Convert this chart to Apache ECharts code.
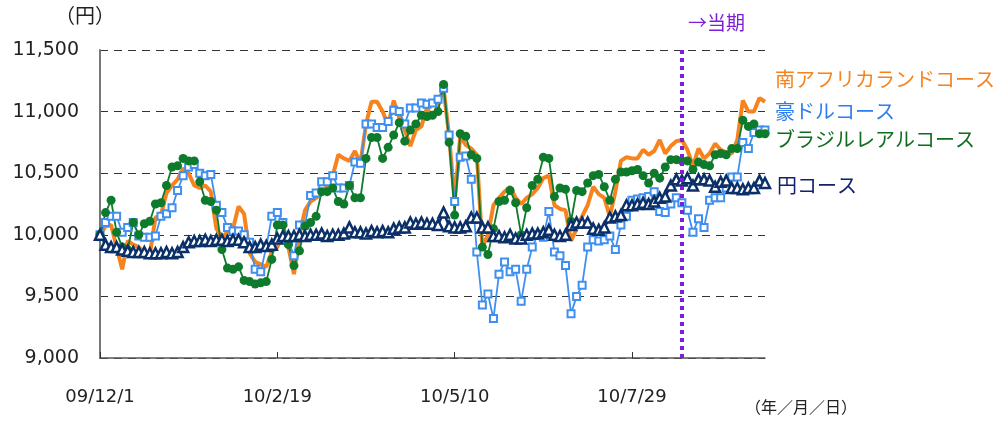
<!DOCTYPE html>
<html>
<head>
<meta charset="utf-8">
<script src="https://cdn.jsdelivr.net/npm/echarts@6/dist/echarts.min.js"></script>
<style>
  html, body { margin: 0; padding: 0; background: #fff; }
  #chart { width: 995px; height: 422px; }
</style>
</head>
<body>
<div id="chart"></div>
<script>
// x軸の目盛ラベル(32点ごと、1点=2.5日)
const tickLabels = ['09/12/1', '10/2/19', '10/5/10', '10/7/29'];
const tickStep = 32;
const currentIndex = 105; // 当期の開始位置

const seriesNames = ['南アフリカランドコース', '豪ドルコース', 'ブラジルレアルコース', '円コース'];

const zarData = [
  10000, 10070, 10080, 9900, 9720, 9950, 9920, 9900, 9850, 9840,
  10140, 10160, 10340, 10400, 10450, 10540, 10500, 10400, 10380, 10400,
  10350, 10050, 9980, 10020, 10050, 10230, 10170, 9850, 9780, 9760,
  9740, 9860, 9900, 10010, 9900, 9680, 10000, 10200, 10270, 10300,
  10330, 10400, 10480, 10650, 10620, 10600, 10680, 10580, 10900, 11080,
  11080, 11000, 10890, 11090, 10950, 10850, 10720, 10850, 10880, 11030,
  10950, 11050, 11190, 10800, 10270, 10800, 10730, 10700, 10650, 9900,
  10000, 10240, 10300, 10350, 10390, 10300, 10250, 10300, 10330, 10380,
  10460, 10480, 10240, 10210, 10200, 9950, 10050, 10150, 10240, 10390,
  10330, 10300, 10150, 10350, 10600, 10630, 10620, 10620, 10690, 10650,
  10680, 10770, 10660, 10720, 10760, 10770, 10690, 10560, 10700, 10620,
  10660, 10740, 10690, 10670, 10660, 10770, 11090, 11000, 11000, 11110,
  11080
];

const audData = [
  10000, 10100, 10150, 10150, 10020, 10060, 10100, 9990, 9980, 9980,
  9990, 10150, 10170, 10220, 10360, 10480, 10550, 10570, 10500, 10480,
  10490, 10240, 10180, 10060, 10030, 10030, 10000, 9940, 9720, 9700,
  9900, 10150, 10180, 10100, 9950, 9830, 10080, 10080, 10320, 10340,
  10430, 10430, 10480, 10380, 10380, 10400, 10590, 10580, 10900, 10900,
  10870, 10870, 10920, 11010, 11000, 10900, 11030, 11030, 11070, 11060,
  11070, 11100, 11190, 10810, 10270, 10630, 10640, 10450, 9860, 9430,
  9520, 9320, 9680, 9780, 9700, 9720, 9460, 9720, 9900, 10000,
  9980, 10190, 9860, 9830, 9750, 9360, 9500, 9590, 9900, 9960,
  9950, 9960, 9990, 9880, 10080, 10150, 10280, 10290, 10300, 10310,
  10350, 10190, 10180, 10250, 10300, 10260, 10200, 10020, 10130, 10060,
  10280, 10300, 10300, 10380, 10470, 10470, 10750, 10700, 10830, 10850,
  10850
];

const brlData = [
  10000, 10180, 10280, 10020, 9900, 9880, 10100, 10000, 10090, 10110,
  10250, 10260, 10400, 10550, 10560, 10620, 10600, 10600, 10430, 10280,
  10270, 10200, 9880, 9730, 9720, 9740, 9630, 9620, 9600, 9610,
  9620, 9800, 10080, 10080, 9920, 9750, 9870, 10070, 10100, 10150,
  10350, 10350, 10380, 10270, 10250, 10400, 10300, 10300, 10620, 10790,
  10790, 10620, 10710, 10810, 10910, 10760, 10850, 10900, 10970, 10960,
  10970, 11000, 11220, 10750, 10160, 10820, 10800, 10650, 10620, 9900,
  9840, 10050, 10270, 10280, 10360, 10260, 10000, 10220, 10400, 10450,
  10630, 10620, 10310, 10380, 10370, 10110, 10360, 10350, 10420, 10480,
  10490, 10390, 10280, 10450, 10510, 10510, 10520, 10530, 10480, 10420,
  10500, 10460, 10550, 10610, 10610, 10600, 10600, 10530, 10590, 10570,
  10560, 10650, 10660, 10650, 10700, 10700, 10930, 10880, 10900, 10820,
  10820
];

const jpyData = [
  10000, 9920, 9900, 9900, 9880, 9870, 9860, 9860, 9860, 9850,
  9850, 9850, 9860, 9850, 9860, 9900, 9940, 9950, 9950, 9960,
  9950, 9960, 9960, 9950, 9960, 9960, 9940, 9900, 9900, 9920,
  9910, 9920, 9970, 9990, 9990, 9990, 10000, 9990, 10000, 10000,
  10010, 9990, 10000, 10000, 10010, 10060, 10020, 10020, 10010, 10030,
  10020, 10030, 10020, 10050, 10060, 10060, 10100, 10090, 10100, 10090,
  10090, 10080, 10180, 10070, 10060, 10060, 10070, 10140, 10140, 10060,
  10060, 9990, 9990, 9980, 10000, 9970, 9970, 10000, 10010, 10010,
  10020, 10040, 10000, 9990, 10000, 10080, 10100, 10100, 10100, 10050,
  10040, 10060, 10140, 10150, 10160, 10240, 10240, 10250, 10260, 10250,
  10270, 10300, 10310, 10400, 10450, 10440, 10460, 10400, 10450, 10450,
  10440, 10390, 10430, 10440, 10380, 10380, 10370, 10380, 10380, 10440,
  10420
];

const categories = zarData.map((v, i) => i);

const FONT = '"Noto Sans CJK JP", "Noto Sans", sans-serif';
const NUMFONT = '"DejaVu Sans", "Noto Sans", sans-serif';
const chart = echarts.init(document.getElementById('chart'));

chart.setOption({
  animation: false,
  grid: { left: 100, right: 230, top: 50, bottom: 64 },
  xAxis: {
    type: 'category',
    data: categories,
    boundaryGap: false,
    axisLine: { lineStyle: { color: '#555', width: 1.5 } },
    axisTick: {
      inside: true, length: 6,
      interval: (idx) => idx % tickStep === 0,
      lineStyle: { color: '#333' }
    },
    axisLabel: {
      interval: (idx) => idx % tickStep === 0,
      formatter: (v, idx) => tickLabels[idx / tickStep] || '',
      margin: 30,
      color: '#222',
      fontSize: 18,
      fontFamily: NUMFONT
    },
    splitLine: { show: false }
  },
  yAxis: {
    type: 'value',
    min: 9000, max: 11500, interval: 500,
    axisLine: { show: true, lineStyle: { color: '#777', width: 2 } },
    axisTick: { show: false },
    axisLabel: {
      color: '#222', fontSize: 19, fontFamily: NUMFONT, margin: 21,
      formatter: (v) => v.toLocaleString('en-US')
    },
    splitLine: { lineStyle: { color: '#333', type: [8, 6], width: 1 } }
  },
  series: [
    {
      name: seriesNames[0], type: 'line', data: zarData,
      showSymbol: false, symbol: 'none',
      lineStyle: { color: '#f7831f', width: 4 },
      itemStyle: { color: '#f7831f' },
      markLine: {
        silent: true, symbol: 'none', label: { show: false },
        lineStyle: { color: '#7d1fd8', width: 4, type: [4, 4] },
        data: [{ xAxis: currentIndex }]
      }
    },
    {
      name: seriesNames[1], type: 'line', data: audData,
      symbol: 'rect', symbolSize: 7, showAllSymbol: true,
      lineStyle: { color: '#3f8ff0', width: 1.8 },
      itemStyle: { color: '#fff', borderColor: '#3f8ff0', borderWidth: 2 }
    },
    {
      name: seriesNames[2], type: 'line', data: brlData,
      symbol: 'circle', symbolSize: 9, showAllSymbol: true,
      lineStyle: { color: '#0e7a2c', width: 1.8 },
      itemStyle: { color: '#0e7a2c' }
    },
    {
      name: seriesNames[3], type: 'line', data: jpyData,
      symbol: 'triangle', symbolSize: 10, showAllSymbol: true,
      lineStyle: { color: '#0b3068', width: 2.5 },
      itemStyle: { color: '#fff', borderColor: '#0b3068', borderWidth: 2.5 }
    }
  ],
  graphic: [
    { type: 'text', left: 55, top: 5, style: { text: '（円）', fontSize: 20, fill: '#222', fontFamily: FONT } },
    { type: 'text', left: 745, top: 399, style: { text: '（年／月／日）', fontSize: 16, fill: '#222', fontFamily: FONT } },
    { type: 'text', left: 688, top: 13, style: { text: '→当期', fontSize: 19, fill: '#7d1fd8', fontFamily: FONT } },
    { type: 'text', left: 775, top: 69, style: { text: seriesNames[0], fontSize: 20, fill: '#f7831f', fontFamily: FONT } },
    { type: 'text', left: 775, top: 101, style: { text: seriesNames[1], fontSize: 20, fill: '#2d7ef0', fontFamily: FONT } },
    { type: 'text', left: 775, top: 129, style: { text: seriesNames[2], fontSize: 20, fill: '#0e6e1e', fontFamily: FONT } },
    { type: 'text', left: 777, top: 175, style: { text: seriesNames[3], fontSize: 20, fill: '#13206e', fontFamily: FONT } }
  ]
});
</script>
</body>
</html>
